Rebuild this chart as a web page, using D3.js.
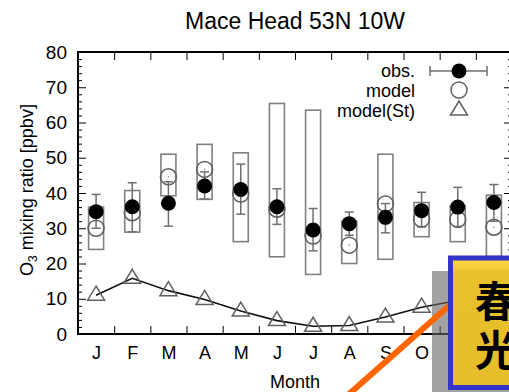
<!DOCTYPE html>
<html>
<head>
<meta charset="utf-8">
<script src="https://cdn.jsdelivr.net/npm/d3@7"></script>
<style>
  body { margin: 0; background: #fff; }
  svg { display: block; font-family: "Liberation Sans", Arial, sans-serif; }
  .axis path, .axis line { stroke: #000; }
  .axis text { fill: #000; }
</style>
</head>
<body>
<svg id="chart" width="509" height="392"></svg>
<script>
// monthly values
const months = ["J", "F", "M", "A", "M", "J", "J", "A", "S", "O", "N", "D"];
const obs = [34.7, 36.1, 37.1, 42.0, 41.0, 36.1, 29.5, 31.3, 33.1, 35.0, 36.0, 37.3];
const obsLow = [30.0, 29.0, 30.6, 38.3, 34.0, 31.1, 23.6, 28.0, 28.7, 30.4, 30.5, 32.0];
const obsHigh = [39.6, 42.9, 43.2, 46.0, 48.2, 41.2, 35.6, 34.6, 37.0, 40.2, 41.6, 42.4];
const model = [30.0, 34.4, 44.6, 46.7, 39.7, 35.4, 27.8, 25.2, 36.9, 32.6, 32.5, 30.3];
const boxLow = [24.0, 28.9, 39.2, 38.2, 26.2, 21.9, 16.9, 20.0, 21.2, 27.6, 26.2, 22.0];
const boxHigh = [36.0, 40.7, 51.0, 53.8, 51.4, 65.4, 63.5, 32.0, 51.0, 37.3, 36.4, 39.4];
const modelSt = [11.0, 15.8, 12.3, 9.8, 6.5, 3.8, 2.2, 2.4, 4.8, 7.6, 9.5, 10.5];
const yTicks = [0, 10, 20, 30, 40, 50, 60, 70, 80];
const legendLabels = ["obs.", "model", "model(St)"];
const calloutText = ["春", "光"];

const svg = d3.select("#chart");
const pLeft = 78, pRight = 512, pTop = 52, pBottom = 334;

const x = d3.scaleLinear().domain([0, 12]).range([pLeft, pRight]);
const y = d3.scaleLinear().domain([0, 80]).range([pBottom, pTop]);

const rows = months.map((m, i) => ({
    m: m, i: i, obs: obs[i], lo: obsLow[i], hi: obsHigh[i],
    model: model[i], bLo: boxLow[i], bHi: boxHigh[i], st: modelSt[i]
}));
const cx = d => x(d.i + 0.5);

// title
svg.append("text")
    .attr("x", (pLeft + pRight) / 2).attr("y", 29)
    .attr("text-anchor", "middle")
    .style("font-size", "23px")
    .text("Mace Head 53N 10W");

// y axis, ticks pointing inward
const minor = d3.range(0, 81, 2).filter(v => v % 10 != 0);
svg.append("g").attr("class", "axis")
    .attr("transform", `translate(${pLeft},0)`)
    .call(d3.axisLeft(y).tickValues(yTicks).tickSizeInner(-8).tickSizeOuter(0).tickPadding(11))
    .call(g => g.selectAll("text").style("font-size", "19px"))
    .call(g => g.select(".domain").remove());
svg.append("g").attr("class", "axis")
    .attr("transform", `translate(${pLeft},0)`)
    .call(d3.axisLeft(y).tickValues(minor).tickSize(-4).tickFormat(""))
    .call(g => g.select(".domain").remove());
svg.append("g").attr("class", "axis")
    .attr("transform", `translate(${pRight},0)`)
    .call(d3.axisRight(y).tickValues(yTicks).tickSize(-8).tickFormat(""))
    .call(g => g.select(".domain").remove());
svg.append("g").attr("class", "axis")
    .attr("transform", `translate(${pRight},0)`)
    .call(d3.axisRight(y).tickValues(minor).tickSize(-4).tickFormat(""))
    .call(g => g.select(".domain").remove());

// x axis: month boundaries as ticks, month letters in between
const bounds = d3.range(1, 12);
svg.append("g").attr("class", "axis")
    .attr("transform", `translate(0,${pBottom})`)
    .call(d3.axisBottom(x).tickValues(bounds).tickSize(-8).tickFormat(""))
    .call(g => g.select(".domain").remove());
svg.append("g").attr("class", "axis")
    .attr("transform", `translate(0,${pTop})`)
    .call(d3.axisTop(x).tickValues(bounds).tickSize(-8).tickFormat(""))
    .call(g => g.select(".domain").remove());
svg.append("g").attr("class", "axis")
    .attr("transform", `translate(0,${pBottom})`)
    .call(d3.axisBottom(x).tickValues(d3.range(12).map(i => i + 0.5))
        .tickSize(0).tickPadding(12).tickFormat((d, i) => months[i]))
    .call(g => g.selectAll("text").style("font-size", "18px"))
    .call(g => g.select(".domain").remove());

// frame
svg.append("rect")
    .attr("x", pLeft).attr("y", pTop)
    .attr("width", pRight - pLeft).attr("height", pBottom - pTop)
    .attr("fill", "none").attr("stroke", "#000").attr("stroke-width", 2);

// axis titles
svg.append("text")
    .attr("x", (pLeft + pRight) / 2).attr("y", 388)
    .attr("text-anchor", "middle")
    .style("font-size", "18px")
    .text("Month");
const yl = svg.append("text")
    .attr("transform", "translate(33,190) rotate(-90)")
    .attr("text-anchor", "middle")
    .style("font-size", "18px");
yl.append("tspan").text("O");
yl.append("tspan").attr("dy", 4).style("font-size", "12px").text("3");
yl.append("tspan").attr("dy", -4).text(" mixing ratio [ppbv]");

const plot = svg.append("g");

// model range boxes
plot.selectAll(".box").data(rows).enter().append("rect")
    .attr("class", "box")
    .attr("x", d => cx(d) - 7.5).attr("width", 15)
    .attr("y", d => y(d.bHi)).attr("height", d => y(d.bLo) - y(d.bHi))
    .attr("fill", "none").attr("stroke", "#808080").attr("stroke-width", 1.6);

// obs error bars
const err = plot.selectAll(".err").data(rows).enter().append("g")
    .attr("class", "err").attr("stroke", "#707070").attr("stroke-width", 1.5);
err.append("line").attr("x1", cx).attr("x2", cx)
    .attr("y1", d => y(d.lo)).attr("y2", d => y(d.hi));
err.append("line").attr("x1", d => cx(d) - 4.5).attr("x2", d => cx(d) + 4.5)
    .attr("y1", d => y(d.lo)).attr("y2", d => y(d.lo));
err.append("line").attr("x1", d => cx(d) - 4.5).attr("x2", d => cx(d) + 4.5)
    .attr("y1", d => y(d.hi)).attr("y2", d => y(d.hi));

// model open circles
plot.selectAll(".mod").data(rows).enter().append("circle")
    .attr("class", "mod")
    .attr("cx", cx).attr("cy", d => y(d.model)).attr("r", 8)
    .attr("fill", "none").attr("stroke", "#606060").attr("stroke-width", 1.5);
plot.selectAll(".moddot").data(rows).enter().append("circle")
    .attr("class", "moddot")
    .attr("cx", cx).attr("cy", d => y(d.model)).attr("r", 0.8)
    .attr("fill", "#888");

// obs filled circles
plot.selectAll(".obs").data(rows).enter().append("circle")
    .attr("class", "obs")
    .attr("cx", cx).attr("cy", d => y(d.obs)).attr("r", 7.5)
    .attr("fill", "#000");

// model(St) line and triangles
const triangle = "M0,-9L8.5,5L-8.5,5Z";
plot.append("path").datum(rows)
    .attr("d", d3.line().x(cx).y(d => y(d.st)))
    .attr("fill", "none").attr("stroke", "#111").attr("stroke-width", 1.6);
plot.selectAll(".st").data(rows).enter().append("path")
    .attr("class", "st")
    .attr("transform", d => `translate(${cx(d)},${y(d.st)})`)
    .attr("d", triangle)
    .attr("fill", "none").attr("stroke", "#606060").attr("stroke-width", 1.5);

// legend
const legend = svg.append("g");
legendLabels.forEach((t, i) => {
    legend.append("text")
        .attr("x", 415).attr("y", 77 + i * 20)
        .attr("text-anchor", "end")
        .style("font-size", "18px")
        .text(t);
});
legend.append("line").attr("x1", 430).attr("x2", 487).attr("y1", 71).attr("y2", 71)
    .attr("stroke", "#707070").attr("stroke-width", 1.5);
[430, 487].forEach(px => legend.append("line")
    .attr("x1", px).attr("x2", px).attr("y1", 66).attr("y2", 76)
    .attr("stroke", "#707070").attr("stroke-width", 1.5));
legend.append("circle").attr("cx", 459).attr("cy", 71).attr("r", 7.5).attr("fill", "#000");
legend.append("circle").attr("cx", 459).attr("cy", 90).attr("r", 8)
    .attr("fill", "none").attr("stroke", "#606060").attr("stroke-width", 1.5);
legend.append("path").attr("transform", "translate(459,110)").attr("d", triangle)
    .attr("fill", "none").attr("stroke", "#606060").attr("stroke-width", 1.5);

// callout overlay
const defs = svg.append("defs");
const grad = defs.append("linearGradient").attr("id", "gold")
    .attr("x1", 0).attr("y1", 0).attr("x2", 0).attr("y2", 1);
grad.append("stop").attr("offset", "0").attr("stop-color", "#fbd646");
grad.append("stop").attr("offset", "0.08").attr("stop-color", "#f5cf3a");
grad.append("stop").attr("offset", "0.1").attr("stop-color", "#e8c12c");
grad.append("stop").attr("offset", "1").attr("stop-color", "#e6bd2a");

svg.append("rect")
    .attr("x", 432).attr("y", 271).attr("width", 90).attr("height", 130)
    .attr("fill", "#666").attr("opacity", 0.6);
svg.append("line")
    .attr("x1", 451).attr("y1", 304).attr("x2", 340).attr("y2", 402)
    .attr("stroke", "#ff6600").attr("stroke-width", 6);
svg.append("rect")
    .attr("x", 450.5).attr("y", 258).attr("width", 80).attr("height", 129.5)
    .attr("fill", "url(#gold)").attr("stroke", "#3434c8").attr("stroke-width", 5);
calloutText.forEach((t, i) => {
    svg.append("text")
        .attr("x", 475).attr("y", 317 + i * 49)
        .style("font-family", "'Noto Sans CJK JP', 'Noto Sans CJK SC', sans-serif")
        .style("font-weight", "bold")
        .style("font-size", "42px")
        .attr("fill", "#000")
        .text(t);
});
</script>
</body>
</html>
